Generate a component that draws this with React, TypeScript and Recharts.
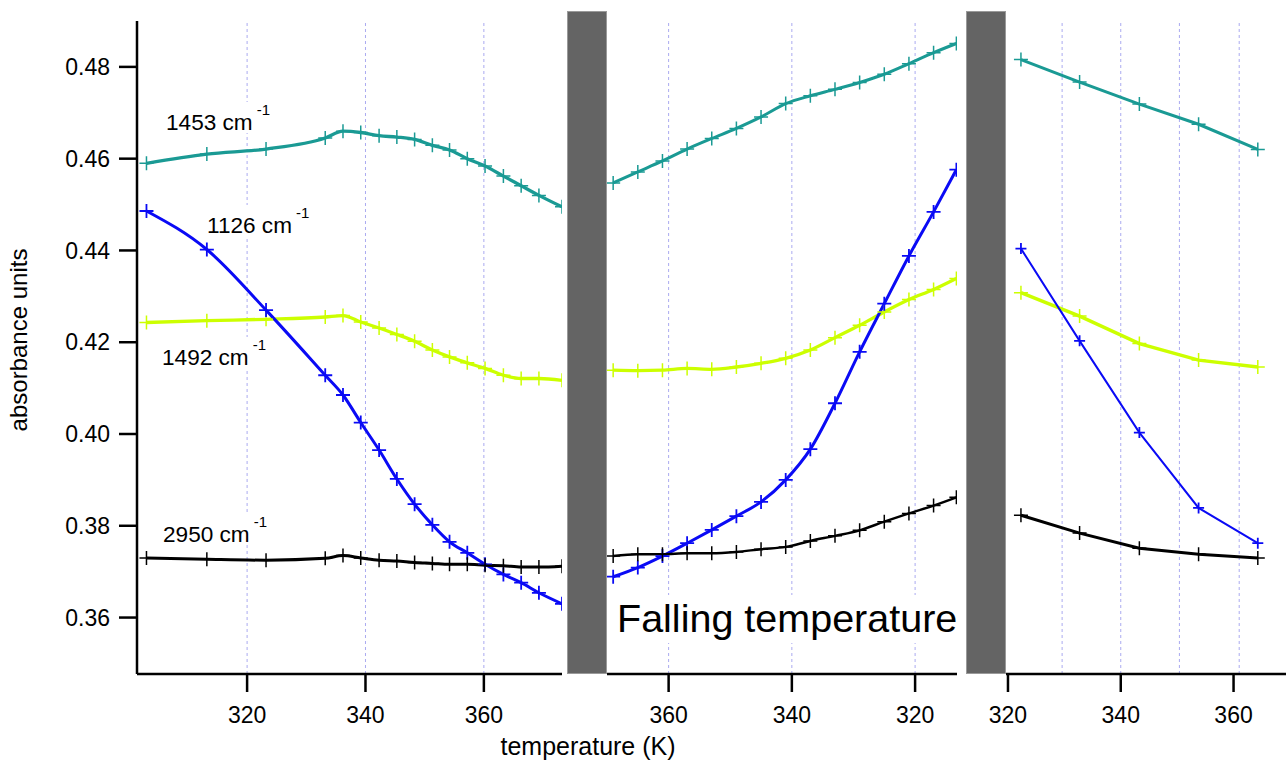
import { LineChart, Line, XAxis, YAxis, ReferenceLine } from 'recharts'

const FONT = '"Liberation Sans", Arial, sans-serif'

// rising temperature, first run
const riseT = [303.0, 313.2, 323.2, 333.2, 336.2, 339.2, 342.3, 345.3, 348.3, 351.3, 354.2, 357.2, 360.2, 363.3, 366.3, 369.3, 373.2]
const rise1453 = [0.459, 0.461, 0.4621, 0.4645, 0.466, 0.4657, 0.465, 0.4647, 0.4642, 0.4629, 0.4619, 0.46, 0.4584, 0.4562, 0.4541, 0.452, 0.4495]
const rise1492 = [0.4243, 0.4247, 0.425, 0.4255, 0.4258, 0.4244, 0.4231, 0.4217, 0.4202, 0.4183, 0.4168, 0.4155, 0.4143, 0.4128, 0.4121, 0.4121, 0.4117]
const rise1126 = [0.4486, 0.4402, 0.427, 0.4128, 0.4085, 0.4025, 0.3965, 0.3902, 0.3847, 0.3802, 0.3765, 0.3741, 0.3716, 0.3694, 0.3676, 0.3654, 0.363]
const rise2950 = [0.373, 0.3727, 0.3725, 0.3729, 0.3735, 0.373, 0.3725, 0.3723, 0.372, 0.3718, 0.3716, 0.3716, 0.3714, 0.3713, 0.371, 0.371, 0.3712]

// falling temperature
const fallT = [369, 365, 361, 357, 353, 349, 345, 341, 337, 333, 329, 325, 321, 317, 313.3]
const fall1453 = [0.4547, 0.4571, 0.4595, 0.4621, 0.4644, 0.4666, 0.4691, 0.472, 0.4737, 0.4751, 0.4766, 0.4784, 0.4807, 0.4831, 0.4851]
const fall1492 = [0.4139, 0.4138, 0.4139, 0.4143, 0.4141, 0.4146, 0.4154, 0.4165, 0.4183, 0.421, 0.4237, 0.4266, 0.4293, 0.4315, 0.4339]
const fall1126 = [0.3689, 0.3709, 0.3734, 0.3762, 0.3791, 0.3821, 0.3852, 0.39, 0.3967, 0.4067, 0.4179, 0.4284, 0.4388, 0.4484, 0.4576]
const fall2950 = [0.3734, 0.3738, 0.3738, 0.374, 0.374, 0.3743, 0.3749, 0.3754, 0.3767, 0.3778, 0.379, 0.3809, 0.3827, 0.3844, 0.3862]

// second rise
const againT = [322.3, 332.7, 343.3, 353.8, 364.3]
const again1453 = [0.4816, 0.4767, 0.4719, 0.4675, 0.462]
const again1492 = [0.4308, 0.4257, 0.4197, 0.4161, 0.4146]
const again1126 = [0.4404, 0.4203, 0.4003, 0.3839, 0.3762]
const again2950 = [0.3823, 0.3784, 0.3751, 0.3738, 0.373]

const yTicks = [0.36, 0.38, 0.4, 0.42, 0.44, 0.46, 0.48]
const tempTicks = [320, 340, 360]
const riseGrid = [320, 340, 360]
const fallGrid = [360, 340, 320]
const againGrid = [329.6, 340, 350.4, 361]

const Y_DOMAIN: [number, number] = [0.3477, 0.49]

const COLORS = { w1453: '#1a9a94', w1492: '#ccff00', w1126: '#0a0af5', w2950: '#000000' }

const labels = [
  { text: '1453 cm', x: 166, y: 130 },
  { text: '1126 cm', x: 207, y: 233 },
  { text: '1492 cm', x: 162, y: 365 },
  { text: '2950 cm', x: 163, y: 542 },
]

function table(t: number[], a: number[], b: number[], c: number[], d: number[]) {
  return t.map((v, i) => ({ t: v, w1453: a[i], w1492: b[i], w1126: c[i], w2950: d[i] }))
}

const cross = (color: string, r: number, w: number) => (p: any) => (
  <path
    key={`x-${p.index}`}
    d={`M${p.cx - r},${p.cy}h${2 * r}M${p.cx},${p.cy - r}v${2 * r}`}
    stroke={color}
    strokeWidth={w}
    fill="none"
  />
)

const axisStroke = { stroke: '#000', strokeWidth: 2.5 }
const tickFont = { fill: '#000', fontSize: 23, fontFamily: FONT }

function Panel({
  left,
  width,
  mLeft,
  mRight,
  data,
  domain,
  reversed = false,
  grid,
  showY = false,
  curve,
  widths,
  blueR = 7,
}: {
  left: number
  width: number
  mLeft: number
  mRight: number
  data: object[]
  domain: [number, number]
  reversed?: boolean
  grid: number[]
  showY?: boolean
  curve: 'monotone' | 'linear'
  widths: number[]
  blueR?: number
}) {
  const keys = ['w1453', 'w1492', 'w1126', 'w2950'] as const
  return (
    <div style={{ position: 'absolute', left, top: 0 }}>
      <LineChart width={width} height={762} data={data} margin={{ top: 21, right: mRight, bottom: 0, left: mLeft }}>
        <XAxis
          type="number"
          dataKey="t"
          domain={domain}
          ticks={tempTicks}
          reversed={reversed}
          allowDataOverflow
          interval={0}
          height={88}
          tickSize={18}
          tickMargin={15}
          tick={tickFont}
          axisLine={axisStroke}
          tickLine={axisStroke}
        />
        <YAxis
          type="number"
          domain={Y_DOMAIN}
          ticks={yTicks}
          allowDataOverflow
          hide={!showY}
          width={137}
          tickSize={18}
          tickMargin={9}
          tick={tickFont}
          axisLine={axisStroke}
          tickLine={axisStroke}
          tickFormatter={(v: number) => v.toFixed(2)}
        />
        {grid.map((g) => (
          <ReferenceLine key={g} x={g} stroke="#aaaaf0" strokeWidth={1} strokeDasharray="3 3" />
        ))}
        {keys.map((k, i) => (
          <Line
            key={k}
            type={curve}
            dataKey={k}
            stroke={COLORS[k]}
            strokeWidth={widths[i]}
            dot={cross(COLORS[k], k === 'w1126' ? blueR : 7, k === 'w1126' ? 1.8 : 1.5)}
            activeDot={false}
            isAnimationActive={false}
          />
        ))}
      </LineChart>
    </div>
  )
}

export default function App() {
  return (
    <div style={{ position: 'absolute', left: 0, top: 0, width: 1286, height: 762, background: '#fff', fontFamily: FONT }}>
      <Panel
        left={0}
        width={570}
        mLeft={0}
        mRight={8}
        data={table(riseT, rise1453, rise1492, rise1126, rise2950)}
        domain={[301.4, 373.2]}
        grid={riseGrid}
        showY
        curve="monotone"
        widths={[3.3, 3.3, 3, 3]}
      />
      <Panel
        left={600}
        width={365}
        mLeft={7}
        mRight={8}
        data={table(fallT, fall1453, fall1492, fall1126, fall2950)}
        domain={[313.2, 370]}
        reversed
        grid={fallGrid}
        curve="monotone"
        widths={[3, 3.3, 3, 2.5]}
      />
      <Panel
        left={976}
        width={310}
        mLeft={30}
        mRight={0}
        data={table(againT, again1453, again1492, again1126, again2950)}
        domain={[319.65, 369.3]}
        grid={againGrid}
        curve="linear"
        widths={[3, 3.5, 2, 3]}
        blueR={5.5}
      />

      <svg width={1286} height={762} style={{ position: 'absolute', left: 0, top: 0, pointerEvents: 'none' }}>
        {labels.map((l) => (
          <g key={l.text}>
            <rect x={l.x - 2} y={l.y - 28} width={108} height={31} fill="#fff" />
            <text x={l.x} y={l.y} fontSize={22.6} fontFamily={FONT} fill="#000">
              {l.text}
              <tspan dx={4} dy={-15} fontSize={15}>-1</tspan>
            </text>
          </g>
        ))}
        <rect x={612} y={595} width={344} height={48} fill="#fff" />
        <text x={617} y={632} fontSize={39.5} fontFamily={FONT} fill="#000">
          Falling temperature
        </text>
        <text x={588} y={755} fontSize={25} fontFamily={FONT} fill="#000" textAnchor="middle">
          temperature (K)
        </text>
        <text
          x={27}
          y={340}
          fontSize={24}
          fontFamily={FONT}
          fill="#000"
          textAnchor="middle"
          transform="rotate(-90 27 340)"
        >
          absorbance units
        </text>
      </svg>

      <div style={{ position: 'absolute', left: 567, top: 11, width: 38, height: 661, background: '#646464', border: '1px solid #9a9a9a' }} />
      <div style={{ position: 'absolute', left: 966, top: 11, width: 38, height: 661, background: '#646464', border: '1px solid #9a9a9a' }} />
    </div>
  )
}
